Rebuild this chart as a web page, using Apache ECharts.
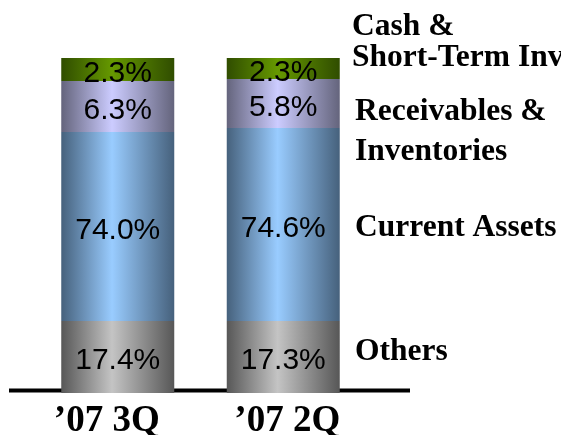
<!DOCTYPE html>
<html>
<head>
<meta charset="utf-8">
<script src="https://cdn.jsdelivr.net/npm/echarts@6/dist/echarts.min.js"></script>
<style>
  html, body { margin: 0; padding: 0; background: #fff; }
  #chart { width: 561px; height: 435px; }
</style>
</head>
<body>
<div id="chart"></div>
<script>
const quarters = ['\u201907 3Q', '\u201907 2Q']
const seriesNames = ['Others', 'Current Assets', 'Receivables & Inventories', 'Cash & Short-Term Investments']

// printed shares (%)
const others = [17.4, 17.3]
const currentAssets = [74.0, 74.6]
const receivables = [6.3, 5.8]
const cash = [2.3, 2.3]

// segment heights as drawn in the picture (share of bar height, not to scale)
const othersDrawn = [21.5, 21.5]
const currentDrawn = [56.4, 57.6]
const receivablesDrawn = [15.2, 14.6]
const cashDrawn = [6.9, 6.3]

const chart = echarts.init(document.getElementById('chart'))

const cyl = (edge, mid) => ({
  type: 'linear', x: 0, y: 0, x2: 1, y2: 0,
  colorStops: [
    { offset: 0, color: edge },
    { offset: 0.45, color: mid },
    { offset: 1, color: edge }
  ]
})

const makeSeries = (name, drawn, printed, color) => ({
  name,
  type: 'bar',
  stack: 'total',
  barWidth: 113,
  z: 5,
  data: drawn.map((v, i) => ({ value: v, printed: printed[i] })),
  itemStyle: { color },
  label: {
    show: true,
    position: 'inside',
    offset: [0, 4],
    fontFamily: 'Liberation Sans',
    fontSize: 30,
    color: '#000',
    formatter: p => p.data.printed.toFixed(1) + '%'
  }
})

const sideFont = 'bold 31.5px "Liberation Serif"'
const sideText = (text, x, y) => ({
  type: 'text',
  x, y,
  style: { text, font: sideFont, fill: '#000', verticalAlign: 'middle' }
})

// first label sits a little left of its bar in the original
const labelPads = [[0, 22, 0, 0], [0, 0, 0, 8]]

const option = {
  animation: false,
  grid: { left: 35, width: 331, top: 58, bottom: 42, outerBoundsMode: 'none', containLabel: false },
  xAxis: {
    type: 'category',
    data: quarters.map((q, i) => ({ value: q, textStyle: { padding: labelPads[i] } })),
    axisLine: { show: false },
    axisTick: { show: false },
    axisLabel: {
      margin: 10,
      fontFamily: 'Liberation Serif',
      fontWeight: 'bold',
      fontSize: 37,
      color: '#000'
    }
  },
  yAxis: {
    type: 'value',
    min: 0,
    max: 100,
    show: false
  },
  series: [
    makeSeries(seriesNames[0], othersDrawn, others, cyl('#575757', '#c4c4c4')),
    makeSeries(seriesNames[1], currentDrawn, currentAssets, cyl('#46617c', '#99ccff')),
    makeSeries(seriesNames[2], receivablesDrawn, receivables, cyl('#64647c', '#ccccff')),
    makeSeries(seriesNames[3], cashDrawn, cash, cyl('#304d00', '#669900'))
  ],
  graphic: {
    z: -1,
    elements: [
      { type: 'line', z: -1, shape: { x1: 9, y1: 390.5, x2: 410, y2: 390.5 }, style: { stroke: '#000', lineWidth: 4 } },
      sideText('Cash &', 352, 27),
      sideText('Short-Term Investments', 352, 58),
      sideText('Receivables &', 355, 112),
      sideText('Inventories', 355, 152),
      sideText('Current Assets', 355, 228),
      sideText('Others', 355, 352)
    ]
  }
}

chart.setOption(option)
</script>
</body>
</html>
